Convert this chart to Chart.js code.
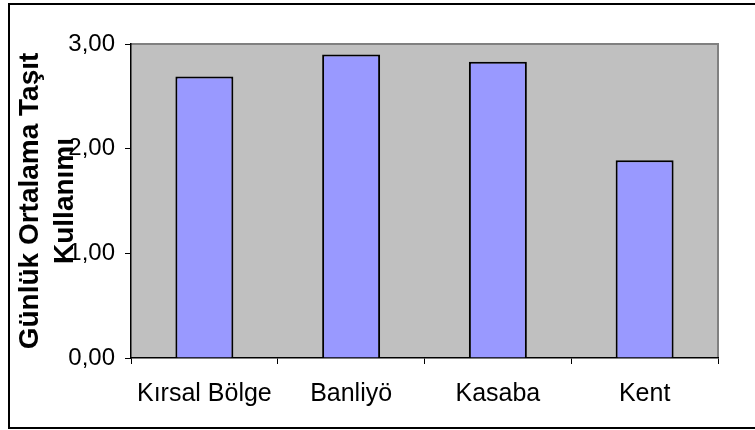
<!DOCTYPE html>
<html>
<head>
<meta charset="utf-8">
<script src="https://cdn.jsdelivr.net/npm/chart.js@4.4.1/dist/chart.umd.min.js"></script>
<style>
  html, body { margin: 0; padding: 0; background: #fff; }
  #wrap { width: 755px; height: 430px; }
</style>
</head>
<body>
<div id="wrap"><canvas id="myChart" width="755" height="430"></canvas></div>
<script>
// categories and values
const labels = ['Kırsal Bölge', 'Banliyö', 'Kasaba', 'Kent'];
const values = [2.69, 2.90, 2.83, 1.89];
const yTitle = ['Günlük Ortalama Taşıt', 'Kullanımı'];

// grey plot area, grey top/right edge, black outer frame
const frame = {
    id: 'frame',
    beforeDraw(chart) {
        const {ctx, chartArea: a} = chart;
        ctx.save();
        ctx.fillStyle = '#c0c0c0';
        ctx.fillRect(a.left, a.top, a.right - a.left, a.bottom - a.top);
        ctx.strokeStyle = '#808080';
        ctx.lineWidth = 2;
        ctx.beginPath();
        ctx.moveTo(a.left, a.top);
        ctx.lineTo(a.right, a.top);
        ctx.lineTo(a.right, a.bottom);
        ctx.stroke();
        ctx.restore();
    },
    afterDraw(chart) {
        const ctx = chart.ctx;
        ctx.save();
        ctx.strokeStyle = '#000';
        ctx.lineWidth = 2;
        ctx.strokeRect(9, 4, 760, 424);
        ctx.restore();
    }
};

const data = {
    labels: labels,
    datasets: [{
        data: values,
        backgroundColor: '#9999ff',
        borderColor: '#000',
        borderWidth: 2,
        barPercentage: 0.395,
        categoryPercentage: 1
    }]
};

const config = {
    type: 'bar',
    data,
    plugins: [frame],
    options: {
        responsive: false,
        animation: false,
        layout: { padding: { left: 0, top: 44, right: 37, bottom: 0 } },
        plugins: {
            legend: { display: false },
            tooltip: { enabled: false }
        },
        scales: {
            x: {
                afterFit(scale) { scale.height = 72; },
                grid: {
                    offset: true,
                    drawOnChartArea: false,
                    drawTicks: true,
                    tickLength: 6,
                    color: '#000'
                },
                border: { color: '#000', width: 1.5 },
                ticks: {
                    color: '#000',
                    padding: 15,
                    maxRotation: 0,
                    font: { family: 'Liberation Sans, Arial, sans-serif', size: 25 }
                }
            },
            y: {
                min: 0,
                max: 3,
                afterFit(scale) { scale.width = 131; },
                grid: {
                    drawOnChartArea: false,
                    drawTicks: true,
                    tickLength: 6,
                    color: '#000'
                },
                border: { color: '#000', width: 1.5 },
                ticks: {
                    stepSize: 1,
                    color: '#000',
                    padding: 10,
                    font: { family: 'Liberation Sans, Arial, sans-serif', size: 24 },
                    callback: v => v.toFixed(2).replace('.', ',')
                },
                title: {
                    display: true,
                    text: yTitle,
                    color: '#000',
                    padding: { top: 13, bottom: 0 },
                    font: { family: 'Liberation Sans, Arial, sans-serif', size: 28, weight: 'bold', lineHeight: 1.25 }
                }
            }
        }
    }
};

var myChart = new Chart(document.getElementById('myChart'), config);
</script>
</body>
</html>
